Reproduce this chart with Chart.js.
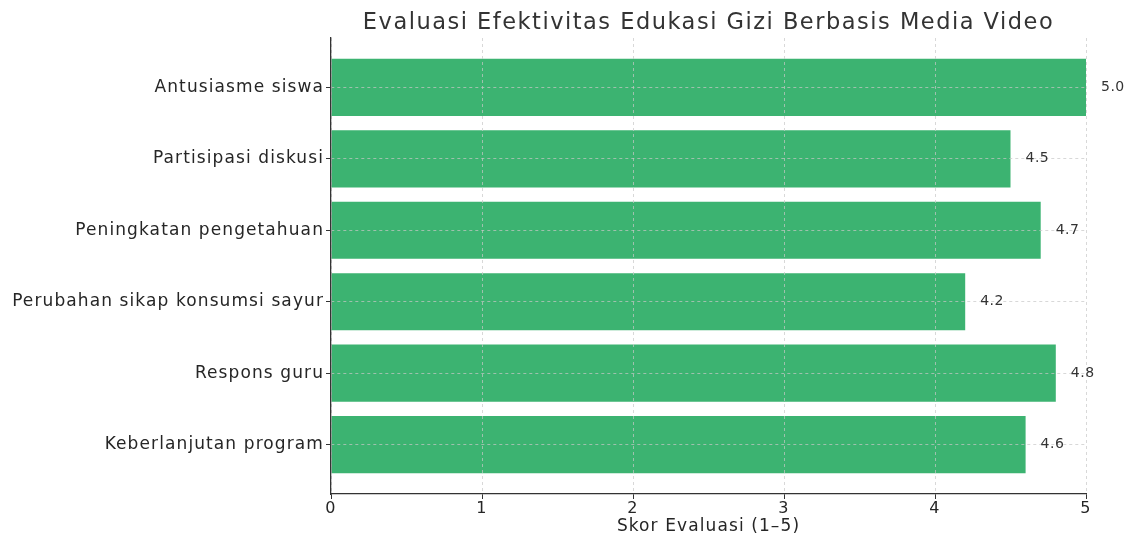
<!DOCTYPE html>
<html lang="en">
<head>
    <meta charset="UTF-8">
    <title>Evaluasi Efektivitas Edukasi Gizi</title>
    <script src="https://cdn.jsdelivr.net/npm/chart.js"></script>
    <style>
        html, body { margin: 0; padding: 0; background: #fff; }
    </style>
</head>
<body>
<canvas id="bar-chart" width="1132" height="537"></canvas>

<script>
    const titleText = 'Evaluasi Efektivitas Edukasi Gizi Berbasis Media Video';
    const xTitle = 'Skor Evaluasi (1\u20135)';
    const categories = [
        'Antusiasme siswa',
        'Partisipasi diskusi',
        'Peningkatan pengetahuan',
        'Perubahan sikap konsumsi sayur',
        'Respons guru',
        'Keberlanjutan program'
    ];
    const scores = [5.0, 4.5, 4.7, 4.2, 4.8, 4.6];
    const xTicks = [0, 1, 2, 3, 4, 5];

    const font = 'DejaVu Sans';
    const gridColor = 'rgba(200,200,200,0.7)';

    // the reference text is drawn a bit wide, so space the letters out
    const extras = {
        id: 'extras',
        beforeDraw(chart) {
            chart.ctx.letterSpacing = '0px';
        },
        afterDatasetsDraw(chart) {
            chart.ctx.letterSpacing = '1.1px';
        },
        afterDraw(chart) {
            const ctx = chart.ctx;
            const area = chart.chartArea;
            const xs = chart.scales.x;
            const ys = chart.scales.y;
            ctx.save();
            ctx.letterSpacing = '1.5px';
            ctx.fillStyle = '#333';
            ctx.font = '22.5px "' + font + '"';
            ctx.textAlign = 'center';
            ctx.textBaseline = 'middle';
            ctx.fillText(titleText, (area.left + area.right) / 2, 23);

            ctx.letterSpacing = '0.5px';
            ctx.fillStyle = '#333';
            ctx.font = '14px "' + font + '"';
            ctx.textAlign = 'left';
            scores.forEach((v, i) => {
                ctx.fillText(v.toFixed(1), xs.getPixelForValue(v) + 15, ys.getPixelForValue(i));
            });
            ctx.restore();
            ctx.letterSpacing = '0px';
        }
    };

    new Chart(document.getElementById('bar-chart'), {
        type: 'bar',
        data: {
            datasets: [{
                data: scores.map((v, i) => ({x: v, y: i})),
                backgroundColor: '#3cb371',
                borderWidth: 0,
                barPercentage: 0.8,
                categoryPercentage: 1.0
            }]
        },
        options: {
            indexAxis: 'y',
            responsive: false,
            animation: false,
            layout: {padding: {left: 0, right: 46, top: 38, bottom: 0}},
            plugins: {
                legend: {display: false},
                tooltip: {enabled: false},
                title: {display: false}
            },
            scales: {
                x: {
                    type: 'linear',
                    min: 0,
                    max: 5,
                    afterBuildTicks: s => { s.ticks = xTicks.map(v => ({value: v})); },
                    afterFit: s => { s.height = 43; },
                    grid: {
                        z: 1,
                        color: gridColor,
                        lineWidth: 1,
                        tickLength: 5,
                        tickColor: '#333',
                        tickBorderDash: [],
                        tickWidth: 1
                    },
                    border: {z: 1, display: true, color: '#333', width: 1.3, dash: [3, 3]},
                    ticks: {
                        z: 1,
                        color: '#262626',
                        font: {family: font, size: 16},
                        padding: 0,
                        maxRotation: 0
                    },
                    title: {
                        display: true,
                        text: xTitle,
                        color: '#262626',
                        font: {family: font, size: 17},
                        padding: {top: 0, bottom: 0}
                    }
                },
                y: {
                    type: 'linear',
                    reverse: true,
                    offset: false,
                    min: -0.69,
                    max: 5.69,
                    afterBuildTicks: s => { s.ticks = categories.map((c, i) => ({value: i})); },
                    afterFit: s => { s.width = 331; },
                    grid: {
                        z: 1,
                        offset: false,
                        color: gridColor,
                        lineWidth: 1,
                        tickLength: 5,
                        tickColor: '#333',
                        tickBorderDash: [],
                        tickWidth: 1
                    },
                    border: {z: 1, display: true, color: '#333', width: 1.3, dash: [3, 3]},
                    ticks: {
                        z: 1,
                        color: '#262626',
                        font: {family: font, size: 17},
                        padding: 2,
                        callback: v => categories[v]
                    }
                }
            }
        },
        plugins: [extras]
    });
</script>
</body>
</html>
